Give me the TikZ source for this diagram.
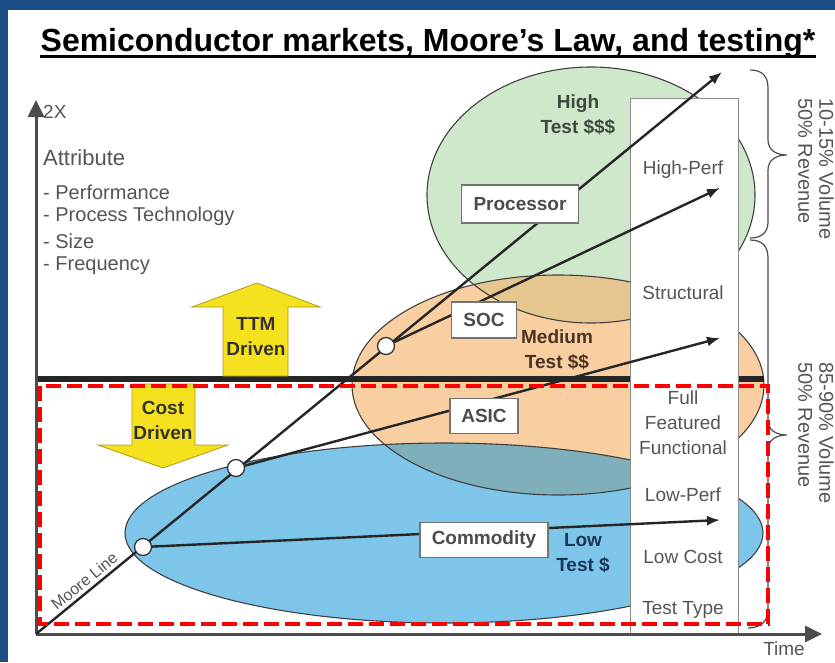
\documentclass[tikz,border=0pt]{standalone}
\usepackage{fontspec}
\setmainfont{Liberation Sans}
\usetikzlibrary{arrows.meta,calc,positioning}

\definecolor{slideblue}{HTML}{1A4E86}
\definecolor{greenfill}{HTML}{CFE7CB}
\definecolor{orangefill}{HTML}{F9CFA2}
\definecolor{tanfill}{HTML}{E4C68E}
\definecolor{bluefill}{HTML}{7DC6EA}
\definecolor{tealfill}{HTML}{7FAFBA}
\definecolor{arrowyellow}{HTML}{F6E11E}
\definecolor{txtgray}{HTML}{555555}
\definecolor{hightxt}{HTML}{3D4A3D}
\definecolor{medtxt}{HTML}{4A3522}
\definecolor{lowtxt}{HTML}{1D3557}

\tikzset{
  plain/.style={font=\fontsize{19}{25}\selectfont, text=txtgray, inner sep=0pt, align=center},
  boxlabel/.style={draw=black!55, fill=white, line width=1.4pt, font=\fontsize{19}{22}\selectfont\bfseries,
    text=black!70, minimum height=35pt, inner xsep=6pt},
  costlabel/.style={font=\fontsize{19}{25}\selectfont\bfseries, inner sep=0pt, align=center},
  dot/.style={circle, draw=black!80, fill=white, line width=1.3pt, minimum size=17pt, inner sep=0pt},
  trend/.style={line width=2.4pt, black!85, -{Latex[length=13pt,width=10pt]}},
  axis/.style={line width=3pt, black!70, -{Triangle[length=17pt,width=16pt]}},
  bubble/.style={draw=black!75, line width=1.1pt},
  bigarrow/.style={fill=arrowyellow, draw=arrowyellow!70!black, line width=0.8pt}
}

\begin{document}
\begin{tikzpicture}[x=1pt,y=-1pt]
  \useasboundingbox (0,0) rectangle (835,662);
  \fill[slideblue] (0,0) rectangle (835,662);
  \fill[white] (8,10) rectangle (835,662);

  % title
  \node[font=\fontsize{32}{36}\selectfont\bfseries, anchor=base, inner sep=0pt] (title) at (428,51)
    {Semiconductor markets, Moore’s Law, and testing*};
  \draw[line width=3pt] ($(title.base west)+(0,5)$) -- ($(title.base east)+(0,5)$);

  % market bubbles
  \fill[greenfill] (591,195) ellipse [x radius=164, y radius=128];
  \fill[orangefill] (558,385) ellipse [x radius=206, y radius=110];
  \fill[bluefill] (444,533) ellipse [x radius=319, y radius=90];
  \begin{scope}
    \clip (558,385) ellipse [x radius=206, y radius=110];
    \fill[tanfill] (591,195) ellipse [x radius=164, y radius=128];
    \fill[tealfill] (444,533) ellipse [x radius=319, y radius=90];
  \end{scope}
  \draw[bubble] (591,195) ellipse [x radius=164, y radius=128];
  \draw[bubble] (558,385) ellipse [x radius=206, y radius=110];
  \draw[bubble] (444,533) ellipse [x radius=319, y radius=90];

  \node[costlabel, text=hightxt] (high) at (578,115) {High\\Test \$\$\$};
  \node[costlabel, text=medtxt] (medium) at (557,350) {Medium\\Test \$\$};
  \node[costlabel, text=lowtxt] (low) at (583,553) {Low\\Test \$};

  % TTM / cost split
  \draw[line width=6.5pt, black!85] (36,379) -- (764,379);

  % test type column
  \node[draw=black!45, fill=white, line width=1pt, minimum width=108pt, minimum height=536pt,
    anchor=north west, inner sep=0pt] (testcol) at (630,98) {};
  \node[plain] (hiperf) at (683,170) {High-Perf};
  \node[plain] (struct) at (683,293) {Structural};
  \node[plain] (full) at (683,423) {Full\\Featured\\Functional};
  \node[plain] (loperf) at (683,495) {Low-Perf};
  \node[plain] (locost) at (683,557) {Low Cost};
  \node[plain] (ttype) at (683,610) {Test Type};

  % axes
  \coordinate (orig) at (36,634);
  \coordinate (ytip) at (36,100);
  \coordinate (xtip) at (822,634);
  \draw[axis] (orig) -- (ytip);
  \draw[axis] (orig) -- (xtip);
  \node[plain, anchor=west] (twox) at (43,112) {2X};
  \node[plain, anchor=north] (time) at (784,642) {Time};

  \node[plain, anchor=west, font=\fontsize{22}{25}\selectfont] (attr) at (43,158) {Attribute};
  \node[plain, anchor=west, font=\fontsize{20}{25}\selectfont] (perf) at (43,192) {- Performance};
  \node[plain, anchor=west, font=\fontsize{20}{25}\selectfont] (proc) at (43,216) {- Process Technology};
  \node[plain, anchor=west, font=\fontsize{20}{25}\selectfont] (size) at (43,241) {- Size};
  \node[plain, anchor=west, font=\fontsize{20}{25}\selectfont] (freq) at (43,266) {- Frequency};

  % yellow arrows
  \draw[bigarrow] (257,283) -- (320,307) -- (288,307) -- (288,376) -- (223,376) -- (223,307) -- (192,307) -- cycle;
  \draw[bigarrow] (163,468) -- (228,445) -- (195,445) -- (195,384) -- (132,384) -- (132,445) -- (98,445) -- cycle;
  \node[costlabel, text=black!80] (ttm) at (256,337) {TTM\\Driven};
  \node[costlabel, text=black!80] (cost) at (163,420) {Cost\\Driven};

  % Moore line and branches
  \coordinate (mtip) at (722,72);
  \coordinate (hptip) at (720,188);
  \coordinate (asictip) at (720,338);
  \coordinate (commtip) at (720,520);
  \draw[trend] (orig) -- (mtip);
  \path (orig) -- (mtip) node[pos=0.08, sloped, above=1pt, font=\fontsize{16}{18}\selectfont, text=txtgray] {Moore Line};
  \node[dot] (c1) at (143,547) {};
  \node[dot] (c2) at (236,468) {};
  \node[dot] (c3) at (386,346) {};
  \draw[trend] (c1) -- (commtip);
  \draw[trend] (c2) -- (asictip);
  \draw[trend] (c3) -- (hptip);

  \node[boxlabel, minimum width=117pt, minimum height=38pt] (cpu) at (520,204) {Processor};
  \node[boxlabel, minimum width=65pt, minimum height=36pt] (soc) at (484,320) {SOC};
  \node[boxlabel, minimum width=68pt] (asic) at (484,416) {ASIC};
  \node[boxlabel, minimum width=128pt] (comm) at (484,540) {Commodity};

  % volume / revenue braces
  \draw[black!70, line width=1.2pt] (750,70) .. controls (762,70) and (768,76) .. (768,88) -- (768,140)
    .. controls (768,150) and (776,155) .. (787,155) .. controls (776,155) and (768,160) .. (768,170)
    -- (768,222) .. controls (768,232) and (762,238) .. (750,238);
  \draw[black!70, line width=1.2pt] (750,240) .. controls (762,240) and (768,246) .. (768,258) -- (768,420)
    .. controls (768,430) and (776,435) .. (787,435) .. controls (776,435) and (768,440) .. (768,450)
    -- (768,610) .. controls (768,620) and (762,628) .. (748,628);
  \node[plain, align=left, rotate=-90, anchor=north west, font=\fontsize{20}{21}\selectfont] (share1) at (834,98)
    {10-15\% Volume\\50\% Revenue};
  \node[plain, align=left, rotate=-90, anchor=north west, font=\fontsize{20}{21}\selectfont] (share2) at (834,362)
    {85-90\% Volume\\50\% Revenue};

  % focus area
  \draw[red, line width=3.5pt, dash pattern=on 15pt off 6pt] (40,386) rectangle (768,624);
\end{tikzpicture}
\end{document}
